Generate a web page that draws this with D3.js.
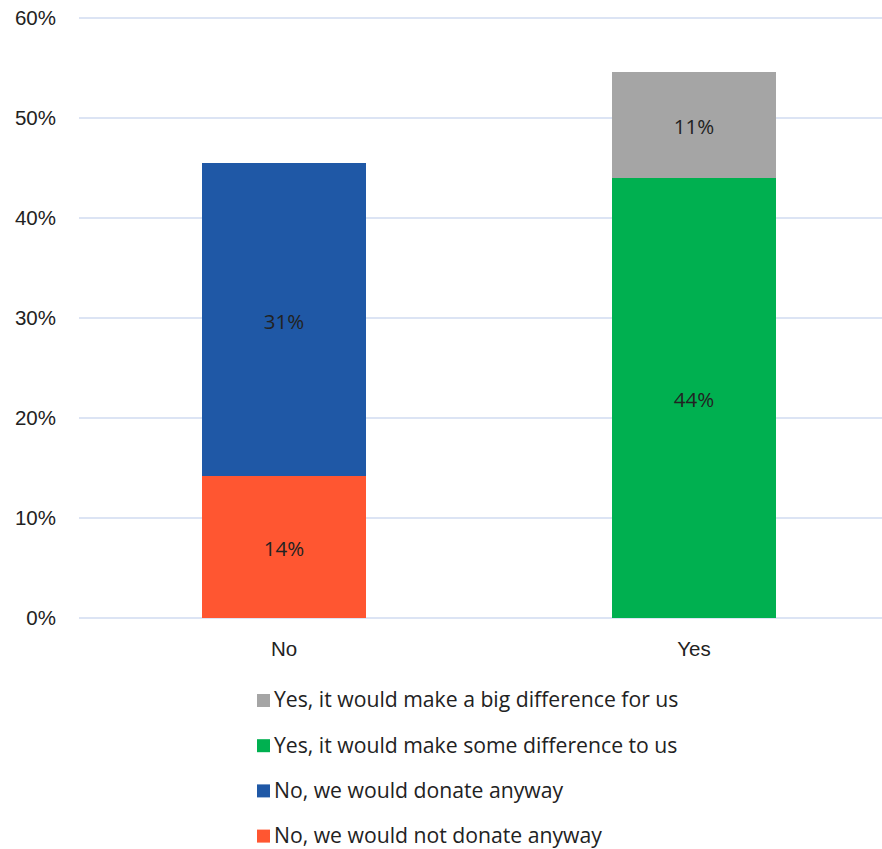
<!DOCTYPE html>
<html><head><meta charset="utf-8">
<script src="https://cdn.jsdelivr.net/npm/d3@7"></script>
<style>body{margin:0;background:#fff}svg{display:block;font-family:"Open Sans","Noto Sans",sans-serif}</style>
</head><body><svg id="c" width="882" height="849"></svg>
<script>
const categories = ["No", "Yes"];
const seriesNames = ["No, we would not donate anyway", "No, we would donate anyway", "Yes, it would make some difference to us", "Yes, it would make a big difference for us"];
const seriesColors = ["#FF5631", "#1F58A6", "#00B050", "#A5A5A5"];
const notDonate = [14.2, 0];
const donateAnyway = [31.3, 0];
const someDiff = [0, 44.0];
const bigDiff = [0, 10.6];
const barLabels = [["14%", ""], ["31%", ""], ["", "44%"], ["", "11%"]];
const yTicks = [0, 10, 20, 30, 40, 50, 60];

const series = [notDonate, donateAnyway, someDiff, bigDiff];
const svg = d3.select("#c");
const x = d3.scaleBand().domain(categories).range([79, 899]).paddingInner(0.6).paddingOuter(0.3);
const y = d3.scaleLinear().domain([0, 60]).range([618, 18]);

const grid = svg.append("g");
grid.selectAll("line").data(yTicks).join("line")
  .attr("x1", 79).attr("x2", 882).attr("y1", d => y(d)).attr("y2", d => y(d))
  .attr("stroke", "#D0DBF0").attr("stroke-width", 1.5);

const yAxis = svg.append("g").attr("transform", "translate(56,0)")
  .call(d3.axisLeft(y).tickValues(yTicks).tickFormat(d => d + "%").tickSize(0).tickPadding(0));
yAxis.select(".domain").remove();
yAxis.selectAll("text").attr("font-size", 20.5).attr("fill", "#222").attr("font-family", "inherit");

const rows = categories.map((c, i) => {
  const o = {cat: c};
  series.forEach((s, k) => o["s" + k] = s[i]);
  return o;
});
const stack = d3.stack().keys(series.map((s, k) => "s" + k))(rows);
stack.forEach((layer, k) => {
  const g = svg.append("g");
  layer.forEach((d, i) => {
    if (d[1] - d[0] <= 0) return;
    g.append("rect").attr("x", x(categories[i])).attr("width", x.bandwidth())
      .attr("y", y(d[1])).attr("height", y(d[0]) - y(d[1])).attr("fill", seriesColors[k]);
    g.append("text").attr("x", x(categories[i]) + x.bandwidth() / 2).attr("y", (y(d[0]) + y(d[1])) / 2 + 2)
      .attr("dy", "0.35em").attr("text-anchor", "middle").attr("font-size", 20.5).attr("fill", "#222")
      .text(barLabels[k][i]);
  });
});

const xAxis = svg.append("g").attr("transform", "translate(0,618)")
  .call(d3.axisBottom(x).tickSize(0).tickPadding(23));
xAxis.select(".domain").remove();
xAxis.selectAll("text").attr("font-size", 20.5).attr("fill", "#222").attr("font-family", "inherit");

const legendOrder = [3, 2, 1, 0];
const lg = svg.append("g");
legendOrder.forEach((k, j) => {
  const yy = 700.5 + j * 45.2;
  lg.append("rect").attr("x", 257).attr("y", yy - 6.5).attr("width", 13).attr("height", 13).attr("fill", seriesColors[k]);
  lg.append("text").attr("x", 274).attr("y", yy).attr("dy", "0.33em").attr("font-size", 21.2).attr("fill", "#222").text(seriesNames[k]);
});
</script></body></html>
